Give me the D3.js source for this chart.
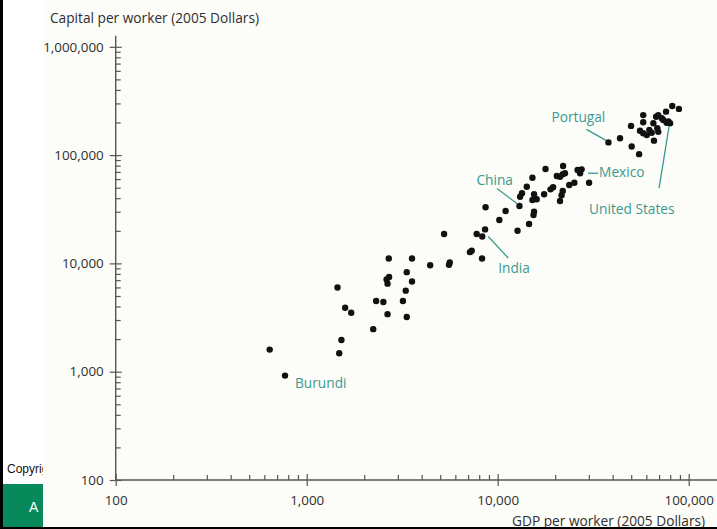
<!DOCTYPE html>
<html>
<head>
<meta charset="utf-8">
<script src="https://cdn.jsdelivr.net/npm/d3@7"></script>
<style>
  body { margin: 0; background: #fff; }
  svg { display: block; }
  text { font-family: "Open Sans", sans-serif; }
</style>
</head>
<body>
<svg id="chart" width="717" height="529"></svg>
<script>
(function () {
  "use strict";

  // unlabeled countries: GDP per worker and capital per worker (2005 dollars)
  var gdpPerWorker = [
    640, 1450, 1520, 1480, 1590, 1710, 2230, 2310, 2520, 2650,
    2690, 2700, 2620, 2650, 3340, 3560, 3560, 3300, 3190, 3340,
    4430, 5610, 5560, 5240, 7310, 7160, 7760, 8280, 8590, 8640,
    11000, 10200, 12700, 14600, 13400, 13100, 14200, 15200, 15500, 16000,
    15200, 15500, 15400, 17500, 17800, 18900, 19500, 20400, 21200, 21900,
    22500, 22000, 21900, 21600, 21200, 23700, 25200, 26200, 27500, 30100,
    43700, 49900, 50300, 55000, 57800, 57800, 55600, 57800, 60300, 64000,
    62200, 65300, 67500, 69300, 69300, 68500, 65800, 72300, 73600, 76100,
    76700, 78300, 82000, 88900
  ];
  var capitalPerWorker = [
    1600, 6000, 1960, 1480, 3900, 3500, 2470, 4500, 4400, 3400,
    11100, 7500, 7100, 6500, 8300, 11100, 6800, 5600, 4500, 3200,
    9600, 10200, 9700, 18700, 13100, 12700, 18700, 11100, 20600, 33000,
    30500, 25200, 20000, 23100, 44400, 41300, 51000, 61800, 43500, 39100,
    38500, 30000, 28000, 43500, 74500, 48300, 50500, 64100, 63200, 66500,
    68000, 79300, 46700, 42600, 37700, 52900, 55600, 72800, 73900, 55600,
    143000, 186000, 120000, 102000, 234000, 201000, 168000, 159000, 153000, 161000,
    171000, 197000, 226000, 234000, 164000, 177000, 136000, 219000, 211000, 252000,
    199000, 205000, 284000, 267000
  ];

  // labeled countries
  var labelNames = ["Burundi", "India", "China", "Mexico", "Portugal", "United States"];
  var labelGdp = [770, 8300, 13000, 27000, 38000, 79900];
  var labelCapital = [920, 17700, 33900, 68000, 131000, 197000];

  var xTicks = [100, 1000, 10000, 100000];
  var yTicks = [100, 1000, 10000, 100000, 1000000];

  var yTitle = "Capital per worker (2005 Dollars)";
  var xTitle = "GDP per worker (2005 Dollars)";

  // label placement relative to the point, in pixels
  var labelLayout = {
    "Burundi":       { text: [10, 12] },
    "India":         { text: [16, 36],  line: [[6, 0], [26, 21.5]] },
    "China":         { text: [-43, -21], line: [[-22.5, -17.5], [-2.5, -2.5]] },
    "Mexico":        { text: [19, 4],   line: [[8, 0], [18, 0]] },
    "Portugal":      { text: [-57, -20], line: [[-22, -13], [-2.5, -2]] },
    "United States": { text: [-81, 91], line: [[-1, 3], [-11, 65]] }
  };

  var teal = "#3a9a90";
  var ink = "#2e2e2e";
  var axisColor = "#555";

  var svg = d3.select("#chart");

  // slide bits that peek out from behind the chart image
  svg.append("text")
    .attr("x", 7).attr("y", 473)
    .style("font-family", "Liberation Sans, Arial, sans-serif")
    .style("font-size", "12px")
    .attr("fill", "#111")
    .text("Copyright");
  svg.append("rect")
    .attr("x", 3).attr("y", 484).attr("width", 60).attr("height", 43)
    .attr("fill", "#07895b");
  svg.append("text")
    .attr("x", 29).attr("y", 512)
    .style("font-family", "Liberation Sans, Arial, sans-serif")
    .style("font-size", "14px")
    .attr("fill", "#fff")
    .text("A");

  svg.append("rect")
    .attr("x", 43).attr("y", 0).attr("width", 674).attr("height", 527)
    .attr("fill", "#fcfcf8");

  var x = d3.scaleLog().domain([100, 100000]).range([115.7, 688.7]);
  var y = d3.scaleLog().domain([100, 1000000]).range([480, 46.8]);

  function minorTicks(scale) {
    var d = scale.domain(), out = [];
    for (var p = Math.log10(d[0]); p < Math.log10(d[1]); p++) {
      for (var k = 2; k <= 9; k++) out.push(k * Math.pow(10, p));
    }
    return out;
  }

  var fmt = d3.format(",");

  // y axis
  var gy = svg.append("g").attr("transform", "translate(" + x.range()[0] + ",0)");
  gy.append("line")
    .attr("x1", 0).attr("x2", 0)
    .attr("y1", y.range()[0]).attr("y2", y.range()[1] - 11)
    .attr("stroke", axisColor).attr("stroke-width", 1.4);
  gy.append("g").call(d3.axisLeft(y).tickValues(minorTicks(y)).tickSize(-5).tickFormat(""));
  gy.append("g").call(d3.axisLeft(y).tickValues(yTicks).tickSize(-6).tickFormat(""));
  gy.append("g").call(d3.axisLeft(y).tickValues(yTicks).tickSize(6).tickPadding(6).tickFormat(fmt));

  // x axis
  var gx = svg.append("g").attr("transform", "translate(0," + y.range()[0] + ")");
  gx.append("line")
    .attr("x1", x.range()[0]).attr("x2", 717)
    .attr("y1", 0).attr("y2", 0)
    .attr("stroke", axisColor).attr("stroke-width", 1.4);
  gx.append("g").call(d3.axisBottom(x).tickValues(minorTicks(x)).tickSize(-5).tickFormat(""));
  gx.append("g").call(d3.axisBottom(x).tickValues(xTicks).tickSize(-6).tickFormat(""));
  gx.append("g").call(d3.axisBottom(x).tickValues(xTicks).tickSize(6).tickPadding(9).tickFormat(fmt));

  svg.selectAll(".domain").remove();
  svg.selectAll(".tick line").attr("stroke", axisColor).attr("stroke-width", 1.2);
  svg.selectAll(".tick text")
    .attr("fill", ink)
    .style("font-family", "Open Sans, sans-serif")
    .style("font-size", "13.4px");

  // axis titles
  svg.append("text")
    .attr("x", 50).attr("y", 23)
    .attr("fill", ink)
    .style("font-size", "13.7px")
    .text(yTitle);
  svg.append("text")
    .attr("x", 512).attr("y", 526)
    .attr("fill", ink)
    .style("font-size", "13.7px")
    .text(xTitle);

  // points
  var points = gdpPerWorker.map(function (g, i) {
    return { gdp: g, capital: capitalPerWorker[i] };
  });
  var labeled = labelNames.map(function (n, i) {
    return { name: n, gdp: labelGdp[i], capital: labelCapital[i] };
  });

  svg.append("g")
    .selectAll("circle")
    .data(points.concat(labeled))
    .enter().append("circle")
    .attr("cx", function (d) { return x(d.gdp); })
    .attr("cy", function (d) { return y(d.capital); })
    .attr("r", 3.2)
    .attr("fill", "#111");

  // annotations
  var notes = svg.append("g");
  labeled.forEach(function (d) {
    var px = x(d.gdp), py = y(d.capital), lay = labelLayout[d.name];
    if (lay.line) {
      notes.append("line")
        .attr("x1", px + lay.line[0][0]).attr("y1", py + lay.line[0][1])
        .attr("x2", px + lay.line[1][0]).attr("y2", py + lay.line[1][1])
        .attr("stroke", teal).attr("stroke-width", 1.3);
    }
    notes.append("text")
      .attr("x", px + lay.text[0]).attr("y", py + lay.text[1])
      .attr("fill", teal)
      .style("font-size", "13.7px")
      .text(d.name);
  });

  // frame edges of the screenshot
  svg.append("rect").attr("x", 0).attr("y", 0).attr("width", 3).attr("height", 529).attr("fill", "#000");
  svg.append("rect").attr("x", 0).attr("y", 527).attr("width", 717).attr("height", 2).attr("fill", "#000");
}());
</script>
</body>
</html>
